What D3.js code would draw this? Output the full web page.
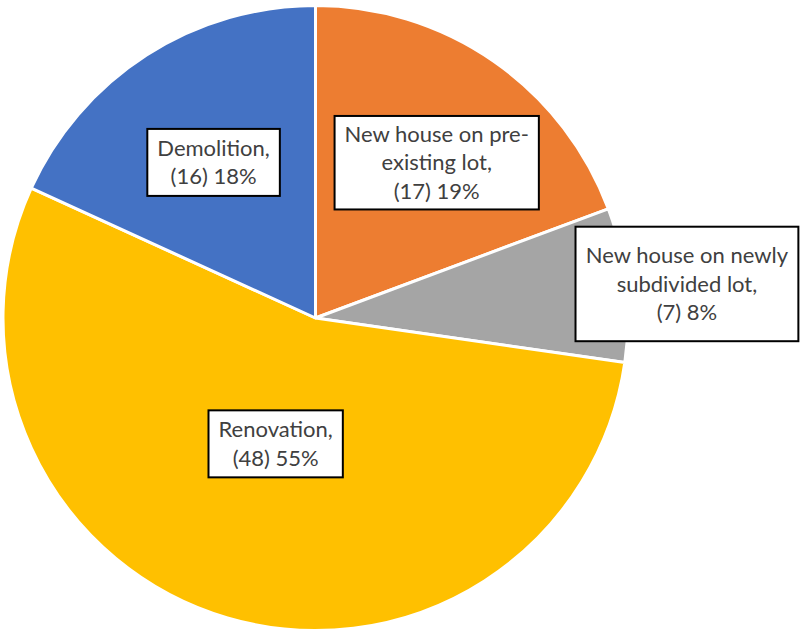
<!DOCTYPE html>
<html>
<head>
<meta charset="utf-8">
<script src="https://cdn.jsdelivr.net/npm/d3@7"></script>
<style>
  body { margin: 0; background: #fff; }
  svg { display: block; }
</style>
</head>
<body>
<svg class="mainSvg" width="801" height="631"></svg>
<script>
// data
var categories = ["New house on pre-existing lot", "New house on newly subdivided lot", "Renovation", "Demolition"];
var counts = [17, 7, 48, 16];
var percents = ["19%", "8%", "55%", "18%"];
var labelLines = [
  ["New house on pre-", "existing lot,", "(17) 19%"],
  ["New house on newly", "subdivided lot,", "(7) 8%"],
  ["Renovation,", "(48) 55%"],
  ["Demolition,", "(16) 18%"]
];
var colors = ["#ED7D31", "#A5A5A5", "#FFC000", "#4472C4"];

// layout only: where each label box sits (distance from centre, angle nudge in degrees)
var labelDist = [197, 373, 132, 186];
var labelNudge = [3.2, 0.9, 1.2, -0.5];
var labelPadY = [4, 14.5, 5, 5];

var width = 801, height = 631;
var cx = 315.5, cy = 318, r = 312.5;

var svg = d3.select(".mainSvg");
var g = svg.append("g").attr("transform", "translate(" + cx + "," + cy + ")");

var pie = d3.pie().sort(null).value(function(d) { return d; });
var arcs = pie(counts);
var arc = d3.arc().innerRadius(0).outerRadius(r);

g.selectAll("path.slice")
  .data(arcs)
  .enter().append("path")
  .attr("class", "slice")
  .attr("d", arc)
  .attr("fill", function(d, i) { return colors[i]; })
  .attr("stroke", "#fff")
  .attr("stroke-width", 3)
  .attr("stroke-linejoin", "round");

var lineH = 28.5;
var labels = g.selectAll("g.lbl")
  .data(arcs)
  .enter().append("g")
  .attr("class", "lbl")
  .attr("transform", function(d, i) {
    var a = (d.startAngle + d.endAngle) / 2 + labelNudge[i] * Math.PI / 180;
    var x = Math.sin(a) * labelDist[i];
    var y = -Math.cos(a) * labelDist[i];
    return "translate(" + x + "," + y + ")";
  });

labels.each(function(d, i) {
  var sel = d3.select(this);
  var lines = labelLines[i];
  var rect = sel.append("rect");
  var txt = sel.append("text")
    .attr("text-anchor", "middle")
    .attr("font-family", "Lato, 'Open Sans', sans-serif")
    .attr("font-size", 22)
    .attr("fill", "#404040");
  var top = -(lines.length - 1) * lineH / 2;
  lines.forEach(function(l, k) {
    txt.append("tspan")
      .attr("x", 0)
      .attr("y", top + k * lineH)
      .attr("dy", "0.35em")
      .text(l);
  });
  var bb = txt.node().getBBox();
  var padX = 10;
  var w = bb.width + padX * 2;
  var h = lines.length * lineH + labelPadY[i] * 2;
  // keep box inside the picture
  var tr = sel.attr("transform").match(/-?[\d.]+/g).map(Number);
  var shift = 0;
  if (cx + tr[0] + w / 2 > width - 1) shift = (width - 1) - (cx + tr[0] + w / 2);
  txt.attr("transform", "translate(" + shift + ",0)");
  rect.attr("x", -w / 2 + shift)
    .attr("y", -h / 2)
    .attr("width", w)
    .attr("height", h)
    .attr("fill", "#fff")
    .attr("stroke", "#000")
    .attr("stroke-width", 2);
});
</script>
</body>
</html>
